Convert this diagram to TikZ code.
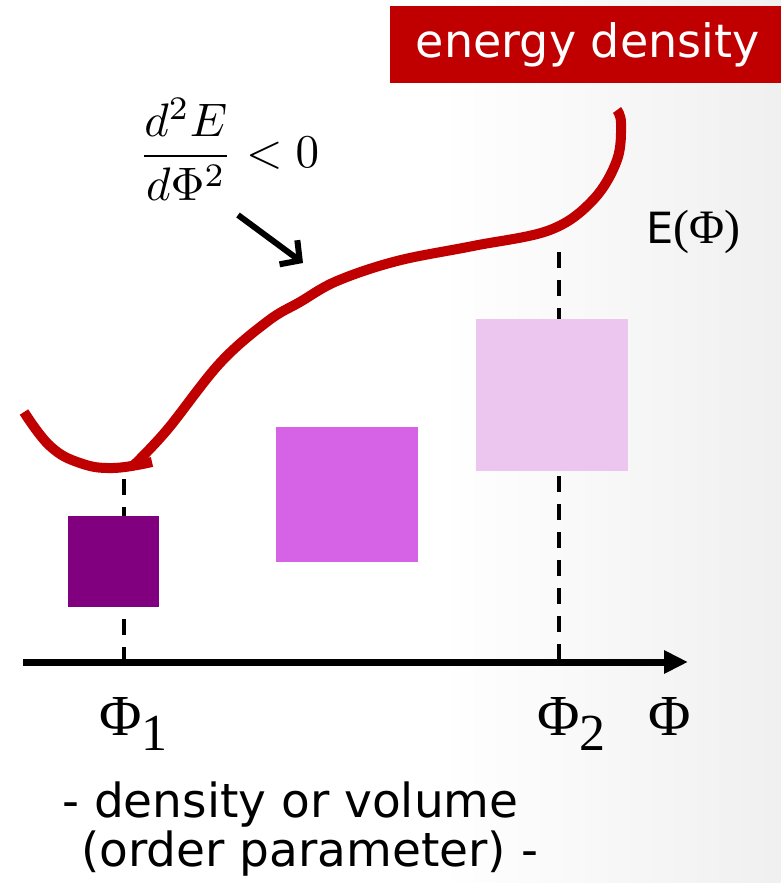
\documentclass[tikz,border=0pt]{standalone}
\usepackage{fontspec}
\setmainfont{DejaVu Sans}
\newfontfamily\timesfont{Liberation Serif}
\usetikzlibrary{arrows.meta}
\definecolor{ered}{RGB}{192,0,0}
\definecolor{pdark}{RGB}{128,0,128}
\definecolor{pmid}{RGB}{214,99,230}
\definecolor{plight}{RGB}{236,198,239}

\begin{document}
\begin{tikzpicture}[x=1pt,y=-1pt,
    curve/.style={ered,line width=10pt},
    marker/.style={line width=4pt,dash pattern=on 16pt off 12pt},
    block/.style={inner sep=0,draw=none},
    phi/.style={inner sep=0,anchor=base west,font=\timesfont\fontsize{58}{58}\selectfont}]
  \useasboundingbox (0,0) rectangle (781,883);
  \fill[white] (0,0) rectangle (781,883);
  \shade[left color=white,right color=black!6] (440,0) rectangle (781,883);
  % dashed markers at Phi_1 and Phi_2
  \foreach \x/\y in {124/479, 559/252}
    \draw[marker] (\x,\y) -- (\x,660);
  % the three blocks
  \node[block,fill=pdark,minimum width=91pt,minimum height=91pt] (sq1) at (113.5,561.5) {};
  \node[block,fill=pmid,minimum width=142pt,minimum height=135pt] (sq2) at (347,494.5) {};
  \node[block,fill=plight,minimum width=152pt,minimum height=152pt] (sq3) at (552,395) {};
  % axis
  \coordinate (ax0) at (23,662);
  \coordinate (ax1) at (688,662);
  \draw[line width=7pt,-{Triangle[length=24pt,width=22pt]}] (ax0) -- (ax1);
  \node[phi] (p1) at (99,735) {Φ\raisebox{-15pt}{\fontsize{52}{52}\selectfont 1}};
  \node[phi] (p2) at (537,735) {Φ\raisebox{-15pt}{\fontsize{52}{52}\selectfont 2}};
  \node[phi] (p) at (648,735) {Φ};
  % energy curve
  \draw[curve] plot[smooth,tension=0.7] coordinates
    {(24,412) (50,446) (80,463) (113,468) (152,462)};
  \draw[curve] plot[smooth,tension=0.6] coordinates
    {(133,466) (167,430) (220,363) (268,321) (300,302) (337,281)
     (397,261) (473,246) (550,230) (593,200) (617,160) (621,123) (617,110)};
  \node[inner sep=0,anchor=base west] (elabel) at (646,243)
    {\fontsize{43}{43}\selectfont E{\timesfont\fontsize{48}{48}\selectfont (Φ)}};
  % curvature label
  \node[inner sep=0,scale=4.7] (deriv) at (229,149)
    {$\displaystyle\frac{d^2E}{d\Phi^2}<0$};
  \coordinate (arr0) at (238,215);
  \coordinate (arr1) at (303,263);
  \draw[line width=6pt,-{Straight Barb[length=14pt,width=30pt,line width=6pt]}] (arr0) -- (arr1);
  % title box
  \node[fill=ered,text=white,inner sep=0,minimum width=395pt,minimum height=77pt,
    anchor=north west,font=\fontsize{46}{46}\selectfont] (title) at (390,6) {energy density};
  % axis caption
  \node[inner sep=0,anchor=base west,font=\fontsize{47}{47}\selectfont] (cap1) at (62,817)
    {- density or volume};
  \node[inner sep=0,anchor=base west,font=\fontsize{47}{47}\selectfont] (cap2) at (66,866)
    {\ (order parameter) -};
\end{tikzpicture}
\end{document}
